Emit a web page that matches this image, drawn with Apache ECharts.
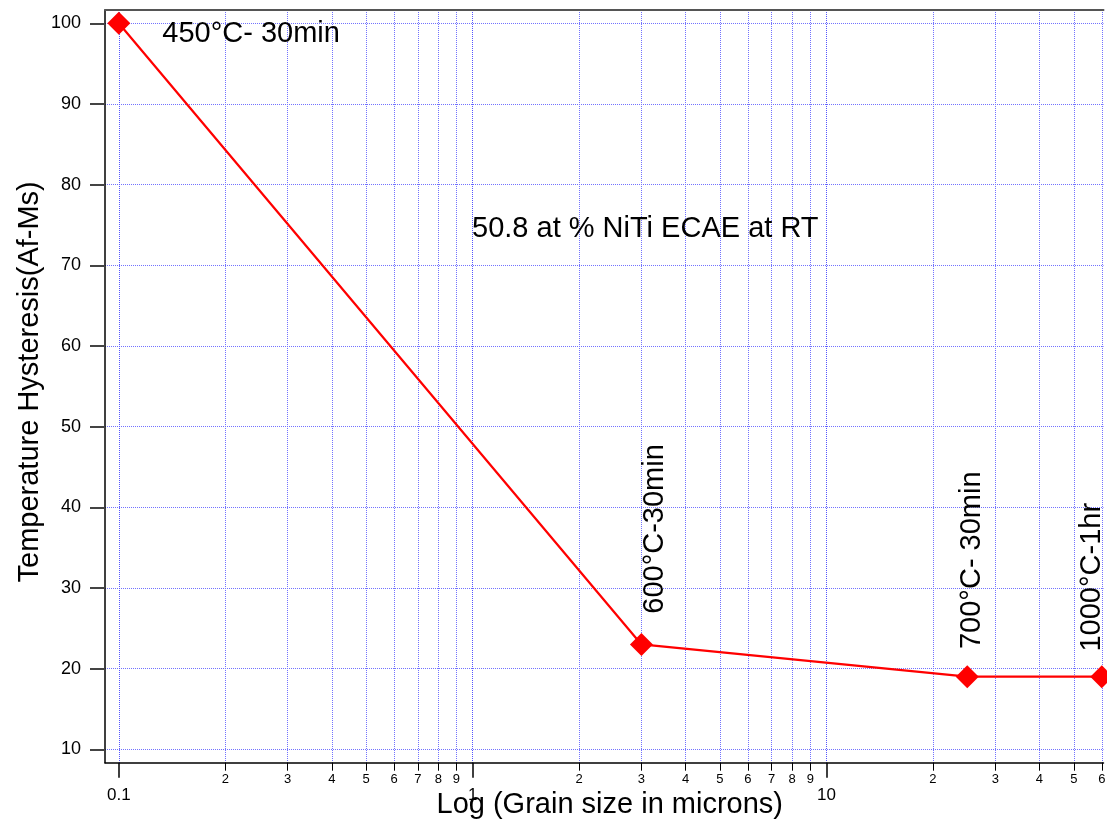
<!DOCTYPE html>
<html>
<head>
<meta charset="utf-8">
<script src="https://cdn.jsdelivr.net/npm/echarts@6/dist/echarts.min.js"></script>
<style>
html,body{margin:0;padding:0;background:#fff;}
#chart{width:1107px;height:828px;}
</style>
</head>
<body>
<div id="chart"></div>
<script>
// ---- data ----
const grainSize = [0.1, 3, 25, 60];          // microns
const hysteresis = [100, 23, 19, 19];        // Af-Ms
const pointLabels = ['450°C- 30min', '600°C-30min', '700°C- 30min', '1000°C-1hr'];
const majorTicks = [0.1, 1, 10];
const majorTickLabels = ['0.1', '1', '10'];
const minorTicks = [0.2, 0.3, 0.4, 0.5, 0.6, 0.7, 0.8, 0.9, 2, 3, 4, 5, 6, 7, 8, 9, 20, 30, 40, 50, 60];
const minorTickLabels = ['2','3','4','5','6','7','8','9','2','3','4','5','6','7','8','9','2','3','4','5','6'];
const yTicks = [10, 20, 30, 40, 50, 60, 70, 80, 90, 100];
const noteText = '50.8 at % NiTi ECAE at RT';

const FONT = "'Liberation Sans', Arial, sans-serif";
const xMin = -1.039, xMax = 1.783;
const lg = v => Math.log10(v);

function lookup(ticks, labels) {
  return function (v) {
    for (let i = 0; i < ticks.length; i++) {
      if (Math.abs(lg(ticks[i]) - v) < 1e-6) return labels[i];
    }
    return '';
  };
}

const labelStyles = [
  { position: [55, 22], align: 'left', verticalAlign: 'middle', rotate: 0 },
  { position: [25, -104], align: 'center', verticalAlign: 'middle', rotate: 90 },
  { position: [16, -105], align: 'center', verticalAlign: 'middle', rotate: 90 },
  { position: [2, -88], align: 'center', verticalAlign: 'middle', rotate: 90 }
];

const seriesData = grainSize.map((g, i) => ({
  value: [lg(g), hysteresis[i]],
  label: Object.assign({
    show: true,
    formatter: pointLabels[i],
    fontSize: 29,
    fontFamily: FONT,
    color: '#000'
  }, labelStyles[i])
}));

const GRID_MINOR = '#7272ff';
const GRID_MAJOR = '#5555ff';

const chart = echarts.init(document.getElementById('chart'), null, { renderer: 'canvas' });
chart.setOption({
  animation: false,
  backgroundColor: '#fff',
  grid: { left: 105, top: 10, right: 3.5, bottom: 65.3, outerBoundsMode: 'none', containLabel: false },
  xAxis: [
    { // minor ticks
      type: 'value', min: xMin, max: xMax, position: 'bottom',
      axisLine: { show: true, onZero: false, lineStyle: { color: '#000', width: 1.5 } },
      axisTick: { show: true, customValues: minorTicks.map(lg), length: 8, inside: false, lineStyle: { color: '#000', width: 1 } },
      axisLabel: { show: true, customValues: minorTicks.map(lg), formatter: lookup(minorTicks, minorTickLabels),
        fontSize: 13, fontFamily: FONT, color: '#000', margin: 10 },
      splitLine: { show: true, lineStyle: { color: GRID_MINOR, type: 'dotted', width: 1 } }
    },
    { // major ticks
      type: 'value', min: xMin, max: xMax, position: 'bottom',
      name: 'Log (Grain size in microns)', nameLocation: 'middle', nameGap: 28, nameMoveOverlap: false,
      nameTextStyle: { fontSize: 29, fontFamily: FONT, color: '#000', padding: [0, 0, 0, 11] },
      axisLine: { show: false, onZero: false },
      axisTick: { show: true, customValues: majorTicks.map(lg), length: 15, lineStyle: { color: '#000', width: 1.5 } },
      axisLabel: { show: true, customValues: majorTicks.map(lg), formatter: lookup(majorTicks, majorTickLabels),
        fontSize: 17, fontFamily: FONT, color: '#000', margin: 24 },
      splitLine: { show: true, lineStyle: { color: GRID_MAJOR, type: 'dotted', width: 1 } }
    },
    { // top frame
      type: 'value', min: xMin, max: xMax, position: 'top',
      axisLine: { show: true, onZero: false, lineStyle: { color: '#555', width: 2 } },
      axisTick: { show: false }, axisLabel: { show: false }, splitLine: { show: false }
    }
  ],
  yAxis: {
    type: 'value', min: 8.34, max: 101.65,
    name: 'Temperature Hysteresis(Af-Ms)', nameLocation: 'middle', nameGap: 61, nameMoveOverlap: false,
    nameTextStyle: { fontSize: 29, fontFamily: FONT, color: '#000', padding: [0, 0, 0, 9] },
    axisLine: { show: true, onZero: false, lineStyle: { color: '#000', width: 1.5 } },
    axisTick: { show: true, customValues: yTicks, length: 15, lineStyle: { color: '#444', width: 2 } },
    axisLabel: { show: true, customValues: yTicks, fontSize: 18, fontFamily: FONT, color: '#000', margin: 24 },
    splitLine: { show: true, lineStyle: { color: GRID_MINOR, type: 'dotted', width: 1 } }
  },
  graphic: [{
    type: 'text', left: 472, top: 214, z: 100,
    style: { text: noteText, font: "29px " + FONT, fill: '#000' }
  }],
  series: [{
    type: 'line',
    xAxisIndex: 0,
    data: seriesData,
    symbol: 'diamond',
    symbolSize: 23,
    clip: false,
    lineStyle: { color: '#ff0000', width: 2.2 },
    itemStyle: { color: '#ff0000' },
    z: 10
  }]
});
</script>
</body>
</html>
